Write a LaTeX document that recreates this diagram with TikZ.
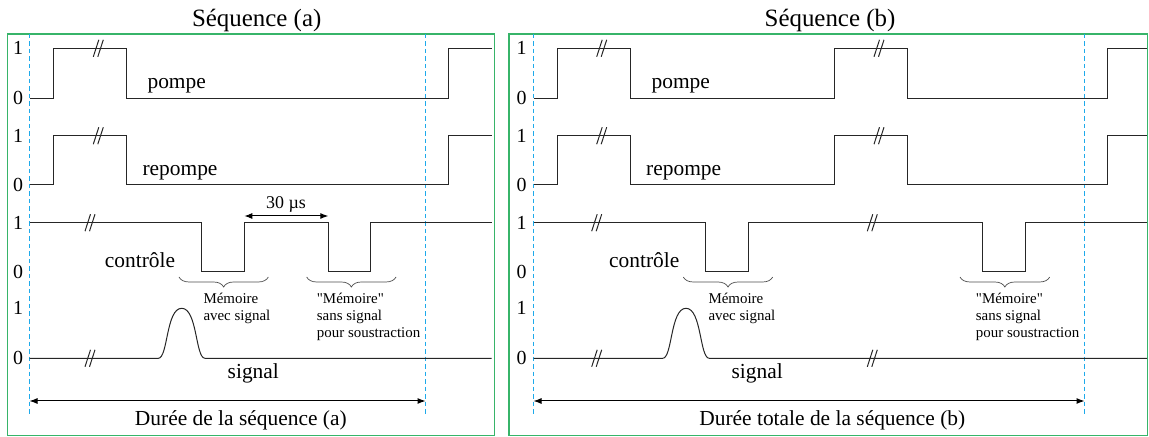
\documentclass[tikz,border=0pt]{standalone}
\usepackage{fontspec}
\setmainfont{Liberation Serif}
\usetikzlibrary{decorations.pathreplacing,arrows.meta}

\definecolor{cadrevert}{RGB}{55,180,105}
\definecolor{bleutrait}{RGB}{30,170,235}

\begin{document}
\begin{tikzpicture}[x=1bp, y=-1bp, >={Latex[length=8bp,width=6bp]},
  every node/.style={inner sep=0pt},
  sig/.style={line width=1bp, black!85},
  cadre/.style={draw=cadrevert, line width=1.3bp},
  repere/.style={bleutrait, line width=1.6bp, dash pattern=on 4.5bp off 3bp},
  accolade/.style={decorate, decoration={brace, mirror, amplitude=10bp}, black!70, line width=0.7bp},
  titre/.style={font=\fontsize{25}{30}\selectfont, anchor=base},
  nom/.style={font=\fontsize{21.5}{26}\selectfont, anchor=base},
  chiffre/.style={font=\fontsize{20}{24}\selectfont},
  petit/.style={font=\fontsize{15}{17.2}\selectfont, align=left, anchor=base west},
  coupe/.pic={\draw[sig] (-5,8.5) -- (0.5,-8.5); \draw[sig] (-0.5,8.5) -- (5,-8.5);}]
  \useasboundingbox (0,0) rectangle (1149,437);

  % Cadres et titres
  \draw[cadre] (7.3,34) rectangle (494.3,435.8);
  \draw[cadre] (509,34) rectangle (1147.5,435.8);
  \node[titre] (tA) at (256.7,26.7) {Séquence (a)};
  \node[titre] (tB) at (830,26.7) {Séquence (b)};

  % Niveaux 0 / 1
  \foreach \lvl/\val [count=\i] in {48.3/1, 98.3/0, 135.7/1, 185/0, 222.7/1, 271.7/0, 308.3/1, 358.3/0} {
    \node[chiffre] (gA\i) at (18,\lvl) {\val};
    \node[chiffre] (gB\i) at (521.7,\lvl) {\val};
  }

  % Repères de début et fin de séquence
  \draw[repere] (29.5,34) -- (29.5,415);
  \draw[repere] (425.5,34) -- (425.5,415);
  \draw[repere] (533.5,34) -- (533.5,415);
  \draw[repere] (1084.5,34) -- (1084.5,415);

  % Séquence (a)
  \draw[sig] (29.5,98.3) -- (53.3,98.3) -- (53.3,48.3) -- (126,48.3) -- (126,98.3) -- (448.3,98.3) -- (448.3,48.3) -- (491.7,48.3);
  \draw[sig] (29.5,185) -- (53.3,185) -- (53.3,135.7) -- (126,135.7) -- (126,185) -- (448.3,185) -- (448.3,135.7) -- (491.7,135.7);
  \draw[sig] (29.5,222.7) -- (201,222.7) -- (201,271.7) -- (244.3,271.7) -- (244.3,222.7) -- (328.3,222.7) -- (328.3,271.7) -- (370.7,271.7) -- (370.7,222.7) -- (491.7,222.7);
  \draw[sig] (29.5,358.3) -- (158.3,358.3) .. controls (168,358.3) and (166,308.3) .. (181.7,308.3) .. controls (197.4,308.3) and (195.4,358.3) .. (205,358.3) -- (491.7,358.3);
  \pic at (98.3,48.3) {coupe};
  \pic at (98.3,135.7) {coupe};
  \pic at (90,222.7) {coupe};
  \pic at (90,358.3) {coupe};

  \node[nom] (pA) at (176.7,88.5) {pompe};
  \node[nom] (rA) at (180,176) {repompe};
  \node[nom] (cA) at (140,267.3) {contrôle};
  \node[nom] (sA) at (253.3,378.5) {signal};

  \coordinate (m1) at (244.3,216);
  \coordinate (m2) at (328.3,216);
  \draw[<->, line width=1bp] (m1) -- (m2);
  \node[font=\fontsize{18}{22}\selectfont, anchor=base] (dt) at (286,208.3) {30 µs};

  \draw[accolade] (179,277) -- (268.3,277);
  \draw[accolade] (306.7,277) -- (396,277);
  \node[petit] (memA) at (203.3,320.5) {Mémoire\\avec signal};
  \node[petit] (refA) at (316.7,337.7) {\textquotedbl Mémoire\textquotedbl\\sans signal\\pour soustraction};

  \coordinate (debA) at (29.5,401);
  \coordinate (finA) at (425.5,401);
  \draw[<->, line width=1bp] (debA) -- (finA);
  \node[nom] (dA) at (240.8,425.3) {Durée de la séquence (a)};

  % Séquence (b)
  \draw[sig] (533.5,98.3) -- (557.7,98.3) -- (557.7,48.3) -- (630,48.3) -- (630,98.3) -- (834.5,98.3) -- (834.5,48.3) -- (907.3,48.3) -- (907.3,98.3) -- (1107.3,98.3) -- (1107.3,48.3) -- (1147,48.3);
  \draw[sig] (533.5,185) -- (557.7,185) -- (557.7,135.7) -- (630,135.7) -- (630,185) -- (834.5,185) -- (834.5,135.7) -- (907.3,135.7) -- (907.3,185) -- (1107.3,185) -- (1107.3,135.7) -- (1147,135.7);
  \draw[sig] (533.5,222.7) -- (705,222.7) -- (705,271.7) -- (748.3,271.7) -- (748.3,222.7) -- (982.3,222.7) -- (982.3,271.7) -- (1025,271.7) -- (1025,222.7) -- (1147,222.7);
  \draw[sig] (533.5,358.3) -- (662.7,358.3) .. controls (672.4,358.3) and (670.3,308.3) .. (686,308.3) .. controls (701.7,308.3) and (699.6,358.3) .. (709.3,358.3) -- (1147,358.3);
  \pic at (601.7,48.3) {coupe};
  \pic at (879,48.3) {coupe};
  \pic at (601.7,135.7) {coupe};
  \pic at (879,135.7) {coupe};
  \pic at (596.7,222.7) {coupe};
  \pic at (872.3,222.7) {coupe};
  \pic at (596.7,358.3) {coupe};
  \pic at (872.3,358.3) {coupe};

  \node[nom] (pB) at (680.8,88.5) {pompe};
  \node[nom] (rB) at (683.7,176) {repompe};
  \node[nom] (cB) at (644.2,267.5) {contrôle};
  \node[nom] (sB) at (757.2,379) {signal};

  \draw[accolade] (683.3,277) -- (772.7,277);
  \draw[accolade] (960,277) -- (1049.7,277);
  \node[petit] (memB) at (708.3,320.5) {Mémoire\\avec signal};
  \node[petit] (refB) at (975.7,337.7) {\textquotedbl Mémoire\textquotedbl\\sans signal\\pour soustraction};

  \coordinate (debB) at (533.5,401);
  \coordinate (finB) at (1084.5,401);
  \draw[<->, line width=1bp] (debB) -- (finB);
  \node[nom] (dB) at (832.3,425.5) {Durée totale de la séquence (b)};
\end{tikzpicture}
\end{document}
